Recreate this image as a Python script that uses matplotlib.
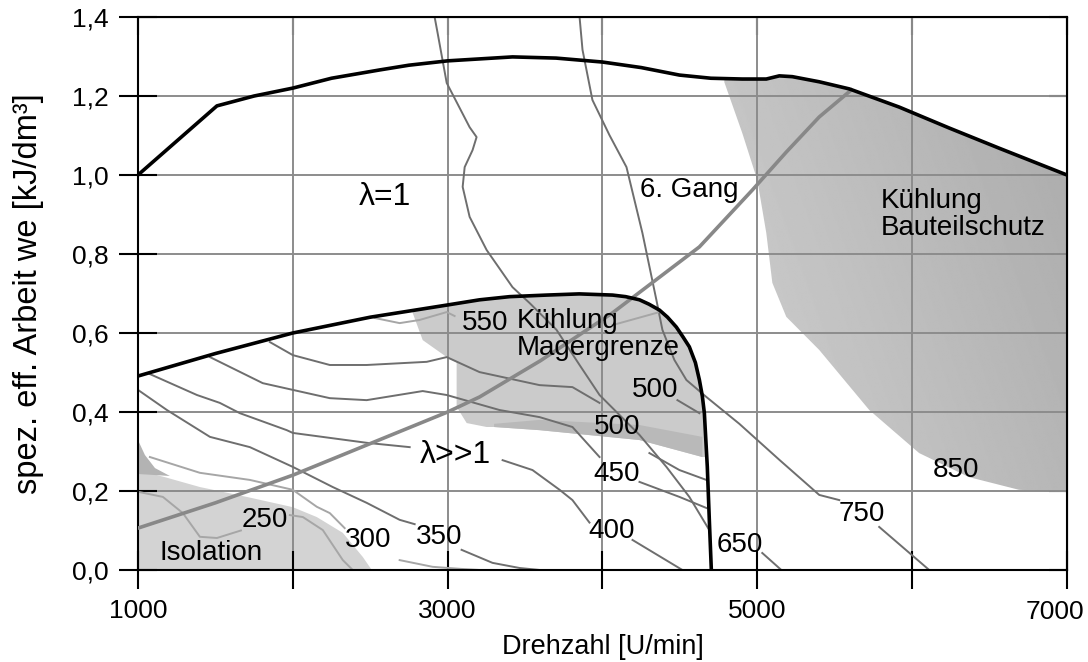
import numpy as np
import matplotlib
matplotlib.use("Agg")
import matplotlib.pyplot as plt
from matplotlib.patches import Polygon

plt.rcParams["font.family"] = ["Liberation Sans", "DejaVu Sans"]

# Volllastlinie lambda = 1
vl_n = [1000, 1510, 1750, 2000, 2250, 2561, 2750, 3000, 3419, 3700, 4000, 4250, 4497, 4700, 4903,
        5058, 5142, 5226, 5400, 5594, 5916, 6239, 6561, 7000]
vl_we = [1.000, 1.175, 1.200, 1.220, 1.245, 1.266, 1.278, 1.289, 1.299, 1.296, 1.286, 1.272, 1.253, 1.245,
         1.243, 1.243, 1.251, 1.249, 1.236, 1.218, 1.172, 1.119, 1.068, 1.000]

# Volllastlinie Magerbetrieb (lambda >> 1)
ml_n = [1000, 1500, 2000, 2500, 3000, 3206, 3400, 3639, 3850, 4065, 4150, 4239, 4300, 4368, 4420,
        4477, 4520, 4561, 4600, 4626, 4645, 4658, 4677, 4690, 4703]
ml_we = [0.491, 0.548, 0.600, 0.640, 0.671, 0.684, 0.692, 0.696, 0.699, 0.696, 0.692, 0.684, 0.673,
         0.658, 0.640, 0.615, 0.590, 0.565, 0.525, 0.481, 0.440, 0.397, 0.261, 0.127, 0.0]

# Fahrwiderstandslinie 6. Gang
gang_n = [1000, 1500, 2000, 2500, 3000, 3206, 3600, 4065, 4626, 4968, 5187, 5400, 5606]
gang_we = [0.106, 0.170, 0.240, 0.320, 0.400, 0.438, 0.530, 0.651, 0.818, 0.962, 1.058, 1.147, 1.215]

# Linien konstanten spez. Verbrauchs [g/kWh], in Abschnitten zwischen den Beschriftungen
be_650_n = [[2916, 2935, 2994, 3142, 3187, 3161, 3110, 3097, 3142, 3252, 3419, 3529, 3703, 3852, 3981, 4129, 4239, 4413, 4561, 4690],
            [5032, 5155]]
be_650_we = [[1.400, 1.360, 1.233, 1.121, 1.096, 1.063, 1.020, 0.970, 0.894, 0.810, 0.716, 0.676, 0.608, 0.519, 0.443, 0.385, 0.342, 0.261, 0.185, 0.101],
             [0.043, 0.0]]
be_750_n = [[3852, 3871, 3935, 4045, 4155, 4258, 4348, 4387, 4464, 4542, 4671, 4884, 5142, 5400, 5529],
            [5787, 6110]]
be_750_we = [[1.400, 1.317, 1.190, 1.101, 1.020, 0.853, 0.684, 0.608, 0.532, 0.481, 0.438, 0.370, 0.279, 0.190, 0.177],
             [0.109, 0.0]]
be_550_n = [[2529, 2690, 2819, 2994, 3045], [4065, 4368]]
be_550_we = [[0.638, 0.625, 0.633, 0.653, 0.643], [0.620, 0.653]]
be_500o_n = [[4484, 4626]]
be_500o_we = [[0.430, 0.397]]
be_500u_n = [[1852, 2000, 2239, 2477, 2865, 2994, 3206, 3594, 3806, 3981], [4303, 4497, 4671]]
be_500u_we = [[0.577, 0.544, 0.519, 0.519, 0.527, 0.539, 0.501, 0.468, 0.463, 0.423], [0.296, 0.253, 0.228]]
be_450_n = [[1465, 1806, 2239, 2477, 2839, 2994, 3335, 3594, 3806, 3981], [4239, 4497, 4671]]
be_450_we = [[0.539, 0.473, 0.435, 0.430, 0.453, 0.443, 0.405, 0.387, 0.362, 0.286], [0.223, 0.185, 0.157]]
be_400_n = [[1077, 1381, 1529, 1658, 1961, 2000, 2477, 2755], [3355, 3548, 3723, 3806, 3916], [4194, 4516]]
be_400_we = [[0.496, 0.443, 0.423, 0.397, 0.354, 0.347, 0.322, 0.311], [0.278, 0.253, 0.203, 0.177, 0.120], [0.076, 0.0]]
be_350_n = [[1000, 1187, 1465, 1723, 2000, 2258, 2477, 2690, 2787], [3090, 3290, 3465, 3594]]
be_350_we = [[0.456, 0.405, 0.337, 0.311, 0.261, 0.210, 0.170, 0.127, 0.116], [0.051, 0.018, 0.005, 0.0]]
be_300_n = [[1077, 1400, 1723, 2000, 2155, 2239, 2335], [2690, 2903, 3077, 3206]]
be_300_we = [[0.286, 0.246, 0.228, 0.203, 0.160, 0.144, 0.106], [0.025, 0.008, 0.003, 0.0]]
be_250_n = [[1013, 1161, 1290, 1400, 1510, 1665], [1981, 2065, 2194, 2323, 2387]]
be_250_we = [[0.197, 0.185, 0.144, 0.084, 0.081, 0.100], [0.139, 0.134, 0.101, 0.025, 0.0]]

# Bereich Kuehlung Bauteilschutz (linker/unterer Rand)
bs_rand_n = [4787, 4903, 5000, 5058, 5097, 5187, 5400, 5723, 6045, 6368, 6690, 7000]
bs_rand_we = [1.235, 1.106, 0.987, 0.853, 0.727, 0.641, 0.557, 0.405, 0.296, 0.235, 0.203, 0.197]

# Bereich Kuehlung Magergrenze (unterer Rand)
mg_rand_n = [4645, 4239, 3594, 3300, 3252, 3123, 3058, 3058, 2994, 2839, 2774]
mg_rand_we = [0.286, 0.329, 0.354, 0.362, 0.362, 0.372, 0.413, 0.525, 0.539, 0.582, 0.651]
mg_band_n = [3300, 3594, 4239, 4645, 4645, 4239, 3594, 3300]
mg_band_we = [0.370, 0.380, 0.367, 0.337, 0.286, 0.329, 0.354, 0.362]

# Bereich Isolation (oberer Rand)
iso_rand_n = [2510, 2452, 2323, 2155, 2000, 1703, 1400, 1174, 1065, 1000]
iso_rand_we = [0.0, 0.033, 0.094, 0.134, 0.159, 0.185, 0.210, 0.235, 0.246, 0.246]
iso_keil_n = [1000, 1045, 1110, 1206, 1000]
iso_keil_we = [0.329, 0.291, 0.258, 0.238, 0.243]

fig = plt.figure(figsize=(10.88, 6.62), dpi=100)
ax = fig.add_axes([0.1268, 0.1390, 0.8539, 0.8353])
ax.set_xlim(1000, 7000)
ax.set_ylim(0, 1.4)

# --- Flaechen ---
vl_interp = np.interp(np.linspace(4787, 7000, 40), vl_n, vl_we)
bs_poly = list(zip(np.linspace(4787, 7000, 40), vl_interp)) + [(7000, 0.197)] \
    + list(zip(bs_rand_n[::-1], bs_rand_we[::-1]))
bs_patch = Polygon(bs_poly, closed=True, facecolor="none", edgecolor="none")
ax.add_patch(bs_patch)
gx, gy = np.meshgrid(np.linspace(4700, 7000, 300), np.linspace(0.19, 1.26, 200))
t = 0.7 * (gx - 4700) / 2300 + 0.3 * (gy - 0.19) / 1.07
grad = np.clip(0.82 - 0.15 * t, 0, 1)
img = ax.imshow(grad, extent=(4700, 7000, 0.19, 1.26), origin="lower", cmap="gray",
                vmin=0, vmax=1, aspect="auto", zorder=0.5, interpolation="bilinear")
img.set_clip_path(bs_patch)

ml_sel = [(n, w) for n, w in zip(ml_n, ml_we) if n >= 2774 and w >= 0.286]
mg_top = [(2774, float(np.interp(2774, ml_n, ml_we)))] + ml_sel + [(4670, 0.286)]
mg_poly = mg_top + list(zip(mg_rand_n, mg_rand_we))
ax.add_patch(Polygon(mg_poly, closed=True, facecolor="#cbcbcb", edgecolor="none", zorder=0.6))
ax.add_patch(Polygon(list(zip(mg_band_n, mg_band_we)), closed=True, facecolor="#b9b9b9",
                     edgecolor="none", zorder=0.7))

iso_poly = [(1000, 0.0)] + list(zip(iso_rand_n, iso_rand_we))
ax.add_patch(Polygon(iso_poly, closed=True, facecolor="#d3d3d3", edgecolor="none", zorder=0.6))
ax.add_patch(Polygon(list(zip(iso_keil_n, iso_keil_we)), closed=True, facecolor="#b3b3b3",
                     edgecolor="none", zorder=0.6))

# --- Gitter ---
ax.grid(True, color="#8c8c8c", lw=1.4)

# --- Verbrauchslinien ---
dunkel = [(be_650_n, be_650_we), (be_750_n, be_750_we), (be_500o_n, be_500o_we),
          (be_500u_n, be_500u_we), (be_450_n, be_450_we), (be_400_n, be_400_we),
          (be_350_n, be_350_we)]
for ns, ws in dunkel:
    for n, w in zip(ns, ws):
        ax.plot(n, w, color="#6e6e6e", lw=1.4, zorder=2)
hell = [(be_550_n, be_550_we), (be_300_n, be_300_we), (be_250_n, be_250_we)]
for ns, ws in hell:
    for n, w in zip(ns, ws):
        ax.plot(n, w, color="#a6a6a6", lw=1.4, zorder=2)

ax.plot(gang_n, gang_we, color="#888888", lw=2.6, zorder=3)
ax.plot(vl_n, vl_we, color="black", lw=2.6, zorder=4, solid_joinstyle="round")
ax.plot(ml_n, ml_we, color="black", lw=2.6, zorder=4, solid_joinstyle="round")

# --- Beschriftungen ---
fs = 20
ax.text(2594, 0.944, "λ=1", fontsize=23, ha="center", va="center")
ax.text(4561, 0.962, "6. Gang", fontsize=fs, ha="center", va="center")
ax.text(5800, 0.901, "Kühlung\nBauteilschutz", fontsize=fs, ha="left", va="center", linespacing=1.05)
ax.text(3239, 0.625, "550", fontsize=fs, ha="center", va="center")
ax.text(3445, 0.595, "Kühlung\nMagergrenze", fontsize=fs, ha="left", va="center", linespacing=1.05)
ax.text(4342, 0.456, "500", fontsize=fs, ha="center", va="center")
ax.text(4097, 0.362, "500", fontsize=fs, ha="center", va="center")
ax.text(4090, 0.243, "450", fontsize=fs, ha="center", va="center")
ax.text(4058, 0.099, "400", fontsize=fs, ha="center", va="center")
ax.text(4890, 0.063, "650", fontsize=fs, ha="center", va="center")
ax.text(5677, 0.142, "750", fontsize=fs, ha="center", va="center")
ax.text(6284, 0.253, "850", fontsize=fs, ha="center", va="center")
ax.text(2942, 0.084, "350", fontsize=fs, ha="center", va="center")
ax.text(2484, 0.076, "300", fontsize=fs, ha="center", va="center")
ax.text(1819, 0.127, "250", fontsize=fs, ha="center", va="center")
ax.text(1471, 0.043, "Isolation", fontsize=fs, ha="center", va="center")
ax.text(3052, 0.291, "λ>>1", fontsize=23, ha="center", va="center")

# --- Achsen ---
xt = list(range(1000, 7001, 1000))
yt = [0.0, 0.2, 0.4, 0.6, 0.8, 1.0, 1.2, 1.4]
ax.set_xticks(xt)
ax.set_xticklabels([str(v) if v in (1000, 3000, 5000) else "" for v in xt])
ax.set_yticks(yt)
ax.set_yticklabels([f"{v:.1f}".replace(".", ",") for v in yt])
ax.tick_params(direction="inout", length=28, width=1.5, pad=7, labelsize=19)
for s in ax.spines.values():
    s.set_linewidth(1.5)

# letzte Beschriftung etwas nach links, damit sie im Bild bleibt
ax.annotate("7000", xy=(7000, 0), xycoords=("data", "axes fraction"),
            xytext=(-9, -21.5), textcoords="offset points", ha="center", va="top", fontsize=19)

top = ax.secondary_xaxis("top")
top.set_xticks(xt)
top.tick_params(direction="in", length=13, width=1.5, labeltop=False)
right = ax.secondary_yaxis("right")
right.set_yticks(yt)
right.tick_params(direction="in", length=13, width=1.5, labelright=False)

ax.set_xlabel("Drehzahl [U/min]", fontsize=19.5, labelpad=8)
ax.set_ylabel("spez. eff. Arbeit we [kJ/dm³]", fontsize=23.5, labelpad=20)

plt.savefig("out.png", dpi=100)
plt.close()
